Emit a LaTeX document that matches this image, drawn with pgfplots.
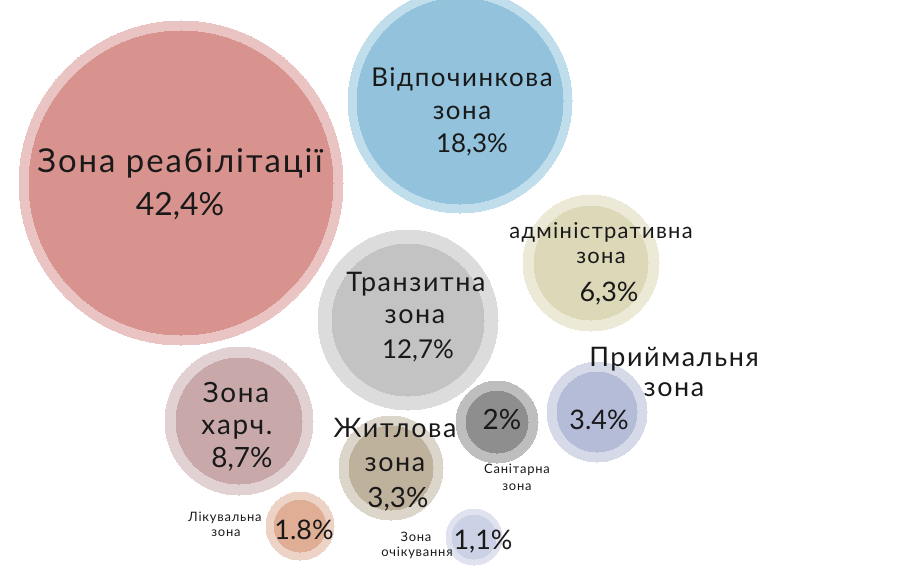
\documentclass[border=0pt]{standalone}
\usepackage{pgfplots}
\pgfplotsset{compat=1.18}
\usepackage{fontspec}
\setmainfont{Lato}
\newfontfamily\wide{Lato}[LetterSpace=6]
\definecolor{redO}{HTML}{E9C4C3}
\definecolor{redI}{HTML}{D8938F}
\definecolor{bluO}{HTML}{BFDDEB}
\definecolor{bluI}{HTML}{92C2DC}
\definecolor{gryO}{HTML}{DCDCDC}
\definecolor{gryI}{HTML}{C3C3C3}
\definecolor{admO}{HTML}{ECE9D6}
\definecolor{admI}{HTML}{DDD8B8}
\definecolor{prmO}{HTML}{D6DAE8}
\definecolor{prmI}{HTML}{B4BCD8}
\definecolor{sanO}{HTML}{BEBEBE}
\definecolor{sanI}{HTML}{8E8E8E}
\definecolor{khO}{HTML}{E2D1D2}
\definecolor{khI}{HTML}{C9A8AA}
\definecolor{zhO}{HTML}{DCD5CA}
\definecolor{zhI}{HTML}{BFB29D}
\definecolor{lkO}{HTML}{EDD3C6}
\definecolor{lkI}{HTML}{DFAE95}
\definecolor{ocO}{HTML}{E0E3EF}
\definecolor{ocI}{HTML}{CCD2E6}
% #1 x, #2 y, #3 outer r, #4 inner r, #5 outer colour, #6 inner colour
\newcommand{\bubble}[6]{%
  \addplot[only marks, color=#5, mark=*, mark size=#3bp, mark options={draw=#5, fill=#5, line width=0pt}] coordinates {(#1,#2)};
  \addplot[only marks, color=#6, mark=*, mark size=#4bp, mark options={draw=#6, fill=#6, line width=0pt}] coordinates {(#1,#2)};
}
\newcommand{\fs}[1]{\fontsize{#1}{#1}\selectfont}
% #1 family, #2 size, #3 x, #4 y (visual centre), #5 baseline factor, #6 text
\newcommand{\lab}[6]{\node[inner sep=0pt, anchor=base, text=black!90, font=#1\fs{#2}, yshift={-#5*#2bp}] at (axis cs:#3,#4) {#6};}
\begin{document}
\begin{tikzpicture}
\begin{axis}[
  width=899bp, height=573bp, scale only axis,
  xmin=0, xmax=899, ymin=0, ymax=573, y dir=reverse,
  hide axis, clip marker paths=true]
\bubble{181}{183}{162}{152}{redO}{redI}
\bubble{460}{101}{112}{103}{bluO}{bluI}
\bubble{408}{320}{90}{76}{gryO}{gryI}
\bubble{591}{263}{68}{57}{admO}{admI}
\bubble{597}{412}{50}{40}{prmO}{prmI}
\bubble{497}{422}{41}{31}{sanO}{sanI}
\bubble{239}{421}{74}{63}{khO}{khI}
\bubble{391}{468}{52}{42}{zhO}{zhI}
\bubble{300}{526}{34}{26}{lkO}{lkI}
\bubble{474}{537}{28}{22}{ocO}{ocI}
% labels
\lab{\wide}{33}{180}{161}{0.36}{Зона реабілітації}
\lab{\rmfamily}{32}{180}{204}{0.36}{42,4\%}
\lab{\wide}{26}{462}{77}{0.36}{Відпочинкова}
\lab{\wide}{26}{462}{113}{0.25}{зона}
\lab{\rmfamily}{26}{472}{143}{0.36}{18,3\%}
\lab{\wide}{27}{416}{282}{0.36}{Транзитна}
\lab{\wide}{27}{415}{317}{0.25}{зона}
\lab{\rmfamily}{26}{418}{349}{0.36}{12,7\%}
\lab{\wide}{22}{601}{233}{0.25}{адміністративна}
\lab{\wide}{22}{601}{258}{0.25}{зона}
\lab{\rmfamily}{27}{609}{292}{0.36}{6,3\%}
\lab{\wide}{27}{674}{357}{0.36}{Приймальня}
\lab{\wide}{27}{674}{390}{0.25}{зона}
\lab{\rmfamily}{27}{599}{420}{0.36}{3.4\%}
\lab{\rmfamily}{28}{502}{419}{0.36}{2\%}
\lab{\wide}{13}{517}{469}{0.36}{Санітарна}
\lab{\wide}{13}{517}{487}{0.25}{зона}
\lab{\wide}{28}{236}{392}{0.36}{Зона}
\lab{\wide}{28}{237}{427}{0.25}{харч.}
\lab{\rmfamily}{28}{242}{457}{0.36}{8,7\%}
\lab{\wide}{27}{395}{428}{0.36}{Житлова}
\lab{\wide}{27}{395}{465}{0.25}{зона}
\lab{\rmfamily}{28}{398}{497}{0.36}{3,3\%}
\lab{\wide}{13}{225}{517}{0.36}{Лікувальна}
\lab{\wide}{13}{226}{533}{0.25}{зона}
\lab{\rmfamily}{27}{304}{530}{0.36}{1.8\%}
\lab{\wide}{13}{416}{537}{0.36}{Зона}
\lab{\wide}{13}{417}{553}{0.25}{очікування}
\lab{\rmfamily}{27}{483}{540}{0.36}{1,1\%}
\end{axis}
\pgfresetboundingbox
\path (0,0) rectangle (899bp,573bp);
\end{tikzpicture}
\end{document}
